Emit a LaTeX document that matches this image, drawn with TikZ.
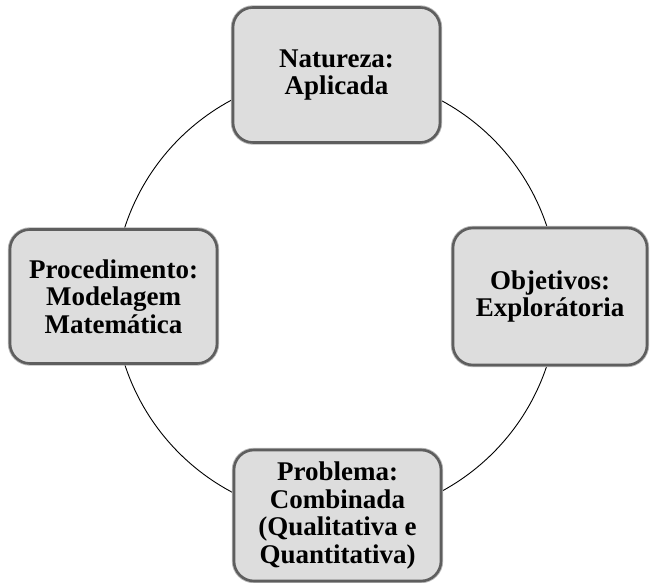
\documentclass[tikz,border=0pt]{standalone}
\usepackage{fontspec}
\setmainfont{Liberation Serif}
\definecolor{boxedge}{HTML}{5E5E5E}
\definecolor{boxfill}{HTML}{DDDDDD}
\tikzset{etapa/.style={draw=boxedge, line width=2.6pt, fill=boxfill, rounded corners=20pt,
    preaction={draw=boxedge!45, line width=4.4pt},
    align=center, inner sep=0pt, font=\fontsize{27}{27.5}\selectfont\bfseries,
    minimum width=207pt, minimum height=135pt},
  ciclo/.style={line width=0.9pt}}

\begin{document}
\begin{tikzpicture}[x=1pt, y=1pt]
\useasboundingbox (0,0) rectangle (651,583);
\coordinate (c) at (336,287);
\draw[ciclo] (c) circle (222pt);
\node[etapa] (nat) at (336.5,508) {Natureza:\\Aplicada};
\node[etapa, minimum height=134pt] (proc) at (113.5,286.5) {Procedimento:\\Modelagem\\Matemática};
\node[etapa, minimum width=194pt, minimum height=137pt] (obj) at (550,286.5) {Objetivos:\\Explorátoria};
\node[etapa, minimum width=207pt, minimum height=131pt] (prob) at (337.5,67.5) {Problema:\\Combinada\\(Qualitativa e\\Quantitativa)};
\end{tikzpicture}
\end{document}
